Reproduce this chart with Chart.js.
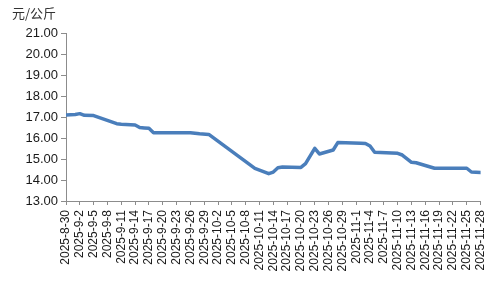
<!DOCTYPE html>
<html>
<head>
<meta charset="utf-8">
<script src="https://cdn.jsdelivr.net/npm/chart.js@4"></script>
<style>
  html, body { margin: 0; padding: 0; background: #fff; }
  #wrap { width: 500px; height: 300px; }
</style>
</head>
<body>
<div id="wrap"><canvas id="myChart" width="500" height="300"></canvas></div>
<script>
// giorni contati dal 2025-8-30 (giorno 0)
const days = [0, 2, 3, 4, 6, 11, 12, 15, 16, 17, 18, 19, 27, 29, 31,
  41, 42, 44, 45, 46, 47, 51, 52, 54, 55, 58, 59, 64, 65, 66, 67,
  72, 73, 75, 76, 80, 87, 88, 90];
const prices = [17.10, 17.12, 17.16, 17.08, 17.07, 16.68, 16.66, 16.62, 16.50, 16.48, 16.46, 16.25, 16.25, 16.20, 16.17,
  14.55, 14.47, 14.30, 14.38, 14.58, 14.62, 14.60, 14.78, 15.51, 15.24, 15.43, 15.78, 15.75, 15.74, 15.62, 15.32,
  15.27, 15.19, 14.84, 14.82, 14.56, 14.56, 14.38, 14.36];

// etichette asse x, una ogni 3 giorni
const tickLabels = ['2025-8-30', '2025-9-2', '2025-9-5', '2025-9-8', '2025-9-11', '2025-9-14', '2025-9-17',
  '2025-9-20', '2025-9-23', '2025-9-26', '2025-9-29', '2025-10-2', '2025-10-5', '2025-10-8', '2025-10-11',
  '2025-10-14', '2025-10-17', '2025-10-20', '2025-10-23', '2025-10-26', '2025-10-29', '2025-11-1', '2025-11-4',
  '2025-11-7', '2025-11-10', '2025-11-13', '2025-11-16', '2025-11-19', '2025-11-22', '2025-11-25', '2025-11-28'];

const unitLabel = '元/公斤';

const points = days.map((d, i) => ({ x: d, y: prices[i] }));

// scritta unità in alto a sinistra
const unitPlugin = {
  id: 'unitLabel',
  afterDraw(chart) {
    const ctx = chart.ctx;
    ctx.save();
    ctx.font = '13px "Noto Sans CJK SC", "Liberation Sans", sans-serif';
    ctx.fillStyle = '#333';
    ctx.textBaseline = 'middle';
    ctx.fillText(unitLabel, 12, 13);
    ctx.restore();
  }
};

const ctx = document.getElementById('myChart').getContext('2d');
const chart = new Chart(ctx, {
  type: 'line',
  data: {
    datasets: [{
      data: points,
      borderColor: '#4A7EBB',
      borderWidth: 3.5,
      borderJoinStyle: 'round',
      borderCapStyle: 'round',
      pointRadius: 0,
      tension: 0,
      fill: false
    }]
  },
  options: {
    responsive: false,
    animation: false,
    layout: { padding: { left: 0, top: 33, right: 15, bottom: 0 } },
    plugins: {
      legend: { display: false },
      tooltip: { enabled: false }
    },
    scales: {
      x: {
        type: 'linear',
        min: 0,
        max: 90,
        afterFit(scale) { scale.height = 99; },
        border: { color: '#8c8c8c', width: 1 },
        grid: { drawOnChartArea: false, color: '#8c8c8c', tickLength: 4 },
        ticks: {
          stepSize: 3,
          autoSkip: false,
          minRotation: 90,
          maxRotation: 90,
          padding: 5,
          color: '#1a1a1a',
          font: { family: '"Liberation Sans", sans-serif', size: 12 },
          callback: (v) => tickLabels[Math.round(v / 3)]
        }
      },
      y: {
        min: 13,
        max: 21,
        afterFit(scale) { scale.width = 66; },
        border: { color: '#8c8c8c', width: 1 },
        grid: { drawOnChartArea: false, color: '#8c8c8c', tickLength: 5 },
        ticks: {
          stepSize: 1,
          padding: 3,
          color: '#1a1a1a',
          font: { family: '"Liberation Sans", sans-serif', size: 13 },
          callback: (v) => v.toFixed(2)
        }
      }
    }
  },
  plugins: [unitPlugin]
});
</script>
</body>
</html>
